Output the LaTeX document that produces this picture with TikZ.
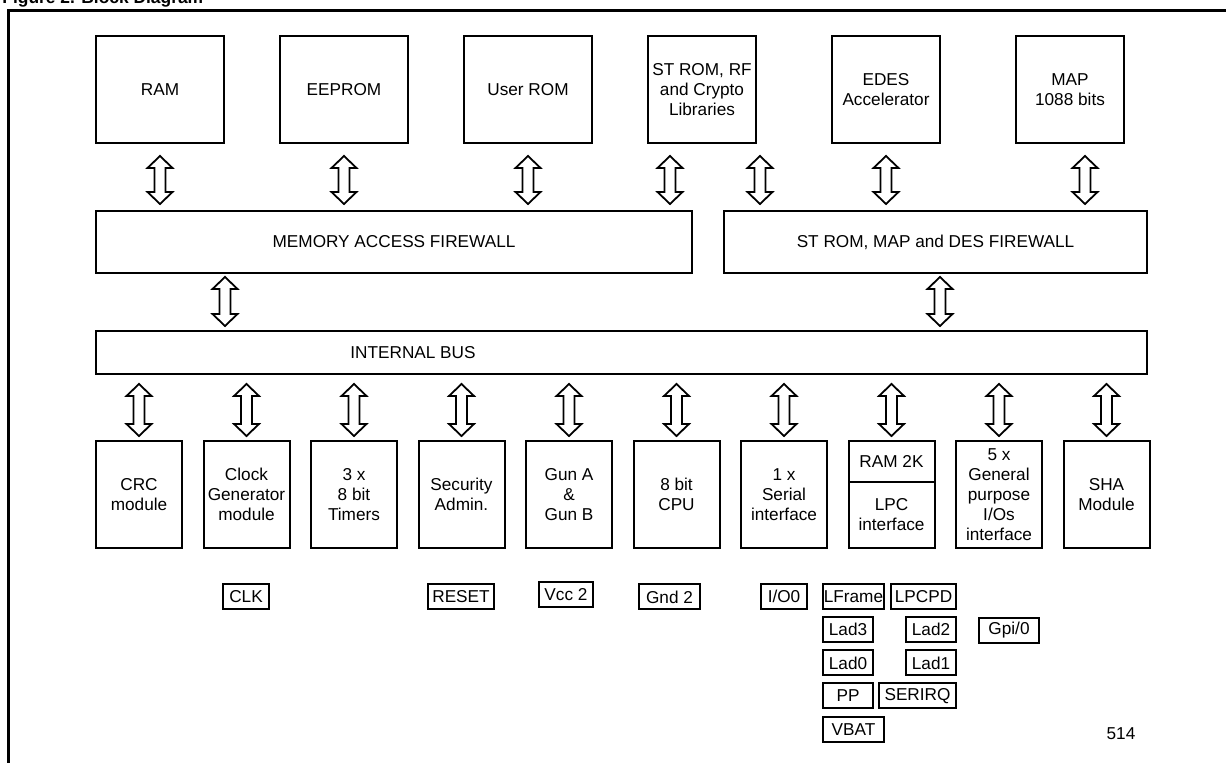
\documentclass[tikz,border=0pt]{standalone}
\usepackage{fontspec}
\setmainfont{Liberation Sans}
\usetikzlibrary{calc}

\tikzset{
  blk/.style={draw, line width=1pt, align=center, inner sep=1pt},
  topblk/.style={blk, minimum width=64pt, minimum height=53.5pt},
  modblk/.style={blk, minimum width=43pt, minimum height=53.5pt},
  fwblk/.style={blk, minimum height=31pt},
  pin/.style={draw, line width=1pt, inner sep=0.5pt, minimum height=12.5pt},
  link/.style={line width=0.9pt, fill=white,
    to path={let \p1=(\tikztostart), \p2=(\tikztotarget) in
      (\x1,\y1) -- (\x1+6.25pt,\y1-6pt) -- (\x1+2.75pt,\y1-6pt) -- (\x1+2.75pt,\y2+6pt)
      -- (\x1+6.25pt,\y2+6pt) -- (\x1,\y2) -- (\x1-6.25pt,\y2+6pt) -- (\x1-2.75pt,\y2+6pt)
      -- (\x1-2.75pt,\y1-6pt) -- (\x1-6.25pt,\y1-6pt) -- cycle}}
}

\begin{document}
\begin{tikzpicture}[x=0.5pt, y=-0.5pt, font=\fontsize{8.6}{10}\selectfont]
  \useasboundingbox (0,0) rectangle (1226,763);

  % frame and title
  \draw[line width=1.5pt] (8,763) -- (8,11) -- (1230,11);
  \node[anchor=base west, inner sep=0pt, font=\fontsize{8.7}{10}\selectfont\bfseries] (title) at (2,4) {Figure 2. Block Diagram};

  % memories
  \node[topblk] (ram) at (160,89.5) {RAM};
  \node[topblk] (eeprom) at (344,89.5) {EEPROM};
  \node[topblk] (userrom) at (528,89.5) {User ROM};
  \node[topblk, minimum width=54pt] (strom) at (702,89.5) {ST ROM, RF\\and Crypto\\Libraries};
  \node[topblk, minimum width=54pt] (edes) at (886,89.5) {EDES\\Accelerator};
  \node[topblk, minimum width=54pt] (map) at (1070,89.5) {MAP\\1088 bits};

  % firewalls and bus
  \node[fwblk, minimum width=298pt] (memfw) at (394,242) {MEMORY ACCESS FIREWALL};
  \node[fwblk, minimum width=211.5pt] (romfw) at (935.5,242) {ST ROM, MAP and DES FIREWALL};
  \node[blk, minimum width=525.5pt, minimum height=21.5pt] (bus) at (621.5,352.5) {};
  \node (bustxt) at (413,353) {INTERNAL BUS};

  % peripherals
  \node[modblk] (crc) at (139,494.5) {CRC\\module};
  \node[modblk] (clkgen) at (246.5,494.5) {Clock\\Generator\\module};
  \node[modblk] (tmr) at (354,494.5) {3 x\\8 bit\\Timers};
  \node[modblk] (sec) at (461.5,494.5) {Security\\Admin.};
  \node[modblk] (gun) at (569,494.5) {Gun A\\\&\\Gun B};
  \node[modblk] (cpu) at (676.5,494.5) {8 bit\\CPU};
  \node[modblk] (ser) at (784,494.5) {1 x\\Serial\\interface};
  \node[modblk, minimum height=20.5pt] (lpcram) at (891.5,461.5) {RAM 2K};
  \node[modblk, minimum height=33pt] (lpc) at (891.5,515) {LPC\\interface};
  \node[modblk] (gpio) at (999,494.5) {5 x\\General\\purpose\\I/Os\\interface};
  \node[modblk] (sha) at (1106.5,494.5) {SHA\\Module};

  % pins
  \node[pin, minimum width=23pt] (pclk) at (246,597) {CLK};
  \node[pin, minimum width=33pt] (preset) at (461,597) {RESET};
  \node[pin, minimum width=27pt] (pvcc) at (566,595) {Vcc 2};
  \node[pin, minimum width=30.5pt] (pgnd) at (669.5,597) {Gnd 2};
  \node[pin, minimum width=23pt] (pio) at (784,596.5) {I/O0};
  \node[pin, minimum width=30.5pt] (plframe) at (853.5,596.5) {LFrame};
  \node[pin, minimum width=32.5pt] (plpcpd) at (923.5,596.5) {LPCPD};
  \node[pin, minimum width=25pt] (plad3) at (848,629.5) {Lad3};
  \node[pin, minimum width=25pt] (plad2) at (931,629.5) {Lad2};
  \node[pin, minimum width=30pt] (pgpi) at (1009,630.5) {Gpi/0};
  \node[pin, minimum width=25pt] (plad0) at (848,663) {Lad0};
  \node[pin, minimum width=25pt] (plad1) at (931,663) {Lad1};
  \node[pin, minimum width=25pt] (ppp) at (848,696) {PP};
  \node[pin, minimum width=38.5pt] (pserirq) at (917.5,696) {SERIRQ};
  \node[pin, minimum width=30.5pt] (pvbat) at (853.5,729.5) {VBAT};
  \node (ref) at (1121,734) {514};

  % links
  \draw[link] ([yshift=-6pt]ram.south) to ([yshift=3pt]memfw.north);
  \draw[link] ([yshift=-6pt]eeprom.south) to ([yshift=3pt]memfw.north);
  \draw[link] ([yshift=-6pt]userrom.south) to ([yshift=3pt]memfw.north);
  \draw[link] ([xshift=-16pt,yshift=-6pt]strom.south) to ([yshift=3pt]memfw.north);
  \draw[link] ([xshift=29pt,yshift=-6pt]strom.south) to ([yshift=3pt]romfw.north);
  \draw[link] ([yshift=-6pt]edes.south) to ([yshift=3pt]romfw.north);
  \draw[link] ([xshift=7.5pt,yshift=-6pt]map.south) to ([yshift=3pt]romfw.north);
  \draw[link] ([xshift=65pt,yshift=-1.5pt]memfw.south west) to ([yshift=2pt]bus.north);
  \draw[link] ([xshift=2.25pt,yshift=-1.5pt]romfw.south) to ([yshift=2pt]bus.north);
  \foreach \m in {crc,clkgen,tmr,sec,gun,cpu,ser,lpcram,gpio,sha}
    \draw[link] ([yshift=-4.5pt]bus.south -| \m.north) to ([yshift=2pt]\m.north);
\end{tikzpicture}
\end{document}
